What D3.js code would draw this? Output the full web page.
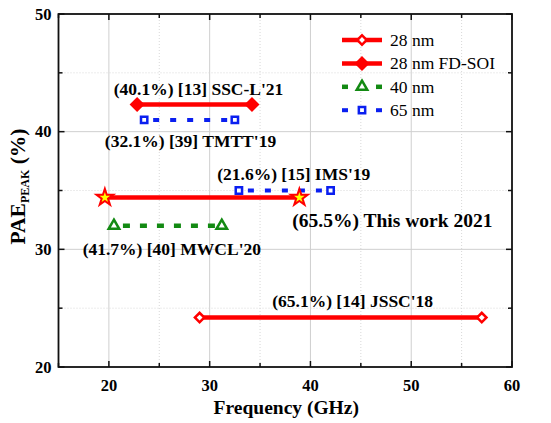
<!DOCTYPE html>
<html lang="en">
<head>
    <meta charset="UTF-8">
    <title>PAE peak vs frequency</title>
    <script src="https://d3js.org/d3.v7.min.js"></script>
    <style>
        body { margin: 0; background: #fff; }
        .tick-label { font-size: 16.5px; font-weight: bold; }
        .note { font-size: 17.5px; font-weight: bold; }
        .note.ours { font-size: 19.5px; }
        .legend text { font-size: 17.5px; }
        .grid-major { stroke: #cfcfcf; stroke-width: 1; }
        .grid-minor { stroke: #d8d8d8; stroke-width: 1; stroke-dasharray: 1,2; }
    </style>
</head>
<body>
    <script>
        // Technology series (legend order)
        const techs = ["28 nm", "28 nm FD-SOI", "40 nm", "65 nm"];

        // Published works: frequency range (GHz), peak PAE (%), technology, label
        const works = ["JSSC'18", "SSC-L'21", "This work", "MWCL'20", "TMTT'19", "IMS'19"];
        const fLow  = [29.0, 22.8, 19.6, 20.5, 23.5, 32.9];
        const fHigh = [57.0, 34.2, 38.9, 31.2, 32.5, 42.0];
        const pae   = [24.2, 42.3, 34.4, 32.0, 41.0, 35.0];
        const tech  = ["28 nm", "28 nm FD-SOI", "28 nm FD-SOI", "40 nm", "65 nm", "65 nm"];
        const labels = [
            "(65.1%) [14] JSSC'18",
            "(40.1%) [13] SSC-L'21",
            "(65.5%) This work 2021",
            "(41.7%) [40] MWCL'20",
            "(32.1%) [39] TMTT'19",
            "(21.6%) [15] IMS'19"
        ];

        const xTicks = [20, 30, 40, 50, 60];
        const yTicks = [20, 30, 40, 50];

        // label placement (pixel offsets from the middle of each line)
        const labelDx = [12, 4, 0, 4, 1, 9];
        const labelDy = [-10.5, -10, 29, 29, 27, -11];
        const labelAnchor = ["middle", "middle", "start", "middle", "middle", "middle"];

        const FONT = "'Liberation Serif', 'Times New Roman', Times, 'DejaVu Serif', serif";

        const width = 551, height = 423;
        const margin = { top: 14, right: 39, bottom: 56, left: 58.5 };

        const svg = d3.select("body").append("svg")
            .attr("width", width)
            .attr("height", height)
            .attr("font-family", FONT)
            .style("font-family", FONT);

        const x = d3.scaleLinear().domain([15, 60]).range([margin.left, width - margin.right]);
        const y = d3.scaleLinear().domain([20, 50]).range([height - margin.bottom, margin.top]);

        const styles = {
            "28 nm":        { color: "#ff0000", dash: null,   width: 4.5, shape: "diamond", fill: "#fff" },
            "28 nm FD-SOI": { color: "#ff0000", dash: null,   width: 4.5, shape: "diamondFilled", fill: "#ff0000" },
            "40 nm":        { color: "#138a13", dash: "7,10", width: 4.5, shape: "triangle", fill: "#fff" },
            "65 nm":        { color: "#0a1ff0", dash: "6,11", width: 4,   shape: "square", fill: "#fff" }
        };

        function markerPath(shape) {
            if (shape === "diamond") return d3.symbol(d3.symbolSquare, 44)();
            if (shape === "diamondFilled") return d3.symbol(d3.symbolSquare, 66)();
            if (shape === "triangle") return d3.symbol(d3.symbolTriangle, 48)();
            if (shape === "square") return d3.symbol(d3.symbolSquare, 40)();
            if (shape === "star") return d3.symbol(d3.symbolStar, 85)();
        }
        function markerRotate(shape) {
            return shape.startsWith("diamond") ? 45 : 0;
        }

        const minorX = d3.range(15, 61, 5);
        const minorY = d3.range(20, 51, 5);

        // grid
        const grid = svg.append("g");
        grid.selectAll(".gx").data(minorX.filter(v => v > 15 && v < 60)).join("line")
            .attr("class", d => d % 10 === 0 ? "grid-major" : "grid-minor")
            .attr("x1", d => x(d)).attr("x2", d => x(d))
            .attr("y1", y(50)).attr("y2", y(20));
        grid.selectAll(".gy").data(minorY.filter(v => v > 20 && v < 50)).join("line")
            .attr("class", d => d % 10 === 0 ? "grid-major" : "grid-minor")
            .attr("y1", d => y(d)).attr("y2", d => y(d))
            .attr("x1", x(15)).attr("x2", x(60));

        // frame
        svg.append("rect")
            .attr("x", x(15)).attr("y", y(50))
            .attr("width", x(60) - x(15)).attr("height", y(20) - y(50))
            .attr("fill", "none").attr("stroke", "#111").attr("stroke-width", 1.8);

        // inward ticks on all four sides
        const tickLen = v => (v % 10 === 0 ? 6 : 4);
        const ticks = svg.append("g").attr("stroke", "#111").attr("stroke-width", 1.5);
        minorX.forEach(v => {
            ticks.append("line").attr("x1", x(v)).attr("x2", x(v)).attr("y1", y(20)).attr("y2", y(20) - tickLen(v));
            ticks.append("line").attr("x1", x(v)).attr("x2", x(v)).attr("y1", y(50)).attr("y2", y(50) + tickLen(v));
        });
        minorY.forEach(v => {
            ticks.append("line").attr("y1", y(v)).attr("y2", y(v)).attr("x1", x(15)).attr("x2", x(15) + tickLen(v));
            ticks.append("line").attr("y1", y(v)).attr("y2", y(v)).attr("x1", x(60)).attr("x2", x(60) - tickLen(v));
        });

        // tick labels
        svg.append("g").selectAll("text").data(xTicks).join("text")
            .attr("class", "tick-label")
            .attr("x", d => x(d)).attr("y", y(20) + 24)
            .attr("text-anchor", "middle")
            .text(d => d);
        svg.append("g").selectAll("text").data(yTicks).join("text")
            .attr("class", "tick-label")
            .attr("x", x(15) - 7).attr("y", d => y(d) + 5.5)
            .attr("text-anchor", "end")
            .text(d => d);

        // axis titles
        svg.append("text")
            .attr("x", (x(15) + x(60)) / 2 + 1).attr("y", 414)
            .attr("text-anchor", "middle")
            .style("font-size", "19.5px").style("font-weight", "bold")
            .text("Frequency (GHz)");

        const yt = svg.append("text")
            .attr("transform", `translate(25,${(y(20) + y(50)) / 2 - 4}) rotate(-90)`)
            .attr("text-anchor", "middle")
            .style("font-weight", "bold");
        yt.append("tspan").style("font-size", "21.5px").text("PAE");
        yt.append("tspan").style("font-size", "12px").attr("dy", 4).text("PEAK");
        yt.append("tspan").style("font-size", "21.5px").attr("dy", -4).text(" (%)");

        // data lines
        const plot = svg.append("g");
        works.forEach((w, i) => {
            const s = styles[tech[i]];
            plot.append("line")
                .attr("x1", x(fLow[i])).attr("x2", x(fHigh[i]))
                .attr("y1", y(pae[i])).attr("y2", y(pae[i]))
                .attr("stroke", s.color)
                .attr("stroke-width", s.width)
                .attr("stroke-dasharray", s.dash)
                .attr("stroke-dashoffset", s.dash ? -9 : null);
        });

        // markers at both band edges
        works.forEach((w, i) => {
            const s = styles[tech[i]];
            const isThis = w === "This work";
            [fLow[i], fHigh[i]].forEach(f => {
                const shape = isThis ? "star" : s.shape;
                plot.append("path")
                    .attr("d", markerPath(shape))
                    .attr("transform", `translate(${x(f)},${y(pae[i])}) rotate(${markerRotate(shape)})`)
                    .attr("fill", isThis ? "#ffff00" : s.fill)
                    .attr("stroke", s.color)
                    .attr("stroke-width", isThis ? 2 : 2.5);
            });
        });

        // work labels
        svg.append("g").selectAll("text").data(works).join("text")
            .attr("class", d => d === "This work" ? "note ours" : "note")
            .attr("x", (d, i) => labelAnchor[i] === "start"
                ? x(fHigh[i]) - 7
                : (x(fLow[i]) + x(fHigh[i])) / 2 + labelDx[i])
            .attr("y", (d, i) => y(pae[i]) + labelDy[i])
            .attr("text-anchor", (d, i) => labelAnchor[i])
            .text((d, i) => labels[i]);

        // legend
        const legend = svg.append("g").attr("class", "legend");
        techs.forEach((t, i) => {
            const s = styles[t];
            const ly = 40 + i * 23.4;
            const row = legend.append("g").attr("transform", `translate(342,${ly})`);
            if (s.dash) {
                row.append("line").attr("x1", 0).attr("x2", 6).attr("stroke", s.color).attr("stroke-width", s.width);
                row.append("line").attr("x1", 34).attr("x2", 40).attr("stroke", s.color).attr("stroke-width", s.width);
            } else {
                row.append("line").attr("x1", 0).attr("x2", 40).attr("stroke", s.color).attr("stroke-width", s.width);
            }
            row.append("path")
                .attr("d", markerPath(s.shape))
                .attr("transform", `translate(20,0) rotate(${markerRotate(s.shape)})`)
                .attr("fill", s.fill)
                .attr("stroke", s.color)
                .attr("stroke-width", 2.5);
            row.append("text").attr("x", 48).attr("y", 6).text(t);
        });
    </script>
</body>
</html>
